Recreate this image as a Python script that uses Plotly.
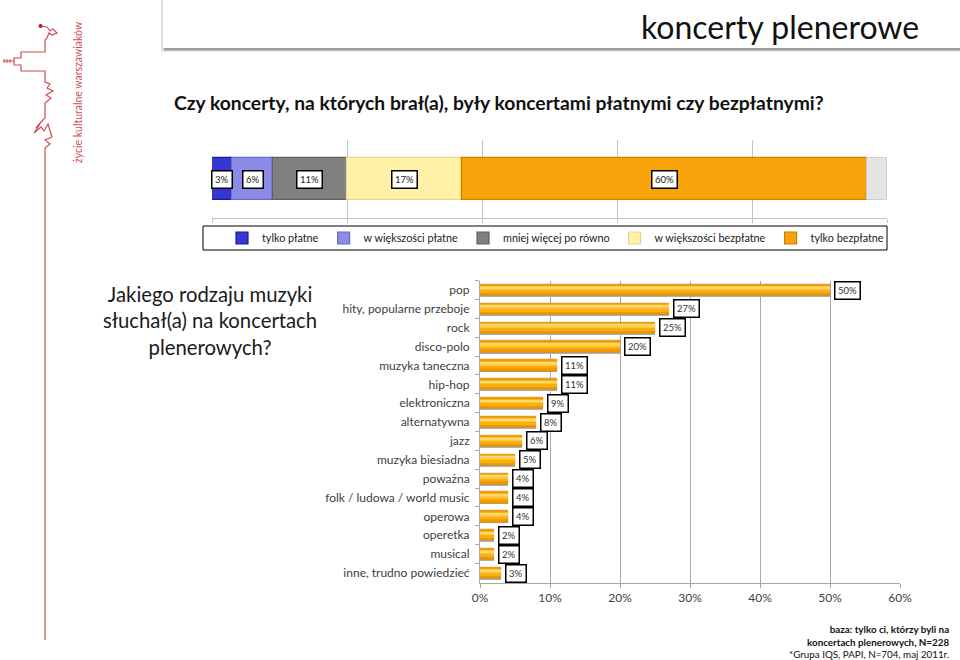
import plotly.graph_objects as go

W, H = 960, 660

# ---------------- data ----------------
pay_categories = ["tylko płatne", "w większości płatne", "mniej więcej po równo",
                  "w większości bezpłatne", "tylko bezpłatne"]
pay_values = [3, 6, 11, 17, 60]
pay_rest = 3  # unlabeled remainder (no answer)
pay_colors = ["#3636D2", "#8C8CE8", "#808080", "#FFF1A6", "#F8A30A"]
pay_edges = ["#1C1C9C", "#6A6AC8", "#606060", "#E6D588", "#C98100"]
pay_ticks = [0, 20, 40, 60, 80, 100]

genres = ["pop", "hity, popularne przeboje", "rock", "disco-polo", "muzyka taneczna",
          "hip-hop", "elektroniczna", "alternatywna", "jazz", "muzyka biesiadna",
          "poważna", "folk / ludowa / world music", "operowa", "operetka", "musical",
          "inne, trudno powiedzieć"]
genre_values = [50, 27, 25, 20, 11, 11, 9, 8, 6, 5, 4, 4, 4, 2, 2, 3]
genre_ticks = [0, 10, 20, 30, 40, 50, 60]

FONT = "Lato, 'Open Sans', sans-serif"


def px(x):
    return x / W


def py(y):
    return 1 - y / H


fig = go.Figure()

# ---------------- top stacked bar ----------------
cum = 0
for name, v, c, e in zip(pay_categories, pay_values, pay_colors, pay_edges):
    fig.add_trace(go.Bar(
        x=[v], y=[0], base=[cum], orientation="h", name=name, width=0.55,
        marker=dict(color=c, line=dict(color=e, width=1.2)),
        xaxis="x", yaxis="y", showlegend=True, hoverinfo="skip"))
    fig.add_annotation(x=cum + v / 2, y=0, xref="x", yref="y", text=f"{v}%",
                       showarrow=False, bgcolor="white", bordercolor="black",
                       borderwidth=1.5, borderpad=2.5,
                       font=dict(family=FONT, size=9.5, color="#222"))
    cum += v
fig.add_trace(go.Bar(
    x=[pay_rest], y=[0], base=[cum], orientation="h", width=0.55,
    marker=dict(color="#E4E4E4", line=dict(color="#CFCFCF", width=1)),
    xaxis="x", yaxis="y", showlegend=False, hoverinfo="skip"))

# ---------------- bottom genre bars (layered for a cylinder look) ----------------
bar_layers = [  # (width, offset, color, edge)
    (0.62, -0.28, "#B0B0B0", None),      # soft shadow
    (0.6, -0.3, "#F29A00", "#C98000"),   # base
    (0.38, -0.26, "#FAAE10", None),
    (0.2, -0.22, "#FFC83A", None),
    (0.08, -0.18, "#FFD970", None),
]
for w, off, col, edge in bar_layers:
    fig.add_trace(go.Bar(
        x=genre_values, y=genres, orientation="h", width=w, offset=off,
        marker=dict(color=col, line=dict(color=edge or col, width=0.6 if edge else 0)),
        xaxis="x2", yaxis="y2", showlegend=False, hoverinfo="skip"))

for g, v in zip(genres, genre_values):
    fig.add_annotation(x=v, y=g, xref="x2", yref="y2", text=f"{v}%",
                       showarrow=False, xanchor="left", xshift=4,
                       bgcolor="white", bordercolor="black", borderwidth=1.5,
                       borderpad=2.5, font=dict(family=FONT, size=9.5, color="#333"))

# ---------------- decorations ----------------
shapes = []
# title box with shadow
shapes.append(dict(type="rect", xref="paper", yref="paper", x0=px(161), x1=1,
                   y0=py(51.5), y1=py(-5), fillcolor="#dcdcdc", line=dict(width=0),
                   layer="above"))
shapes.append(dict(type="rect", xref="paper", yref="paper", x0=px(164), x1=1,
                   y0=py(50.5), y1=py(-5), fillcolor="#9c9c9c", line=dict(width=0),
                   layer="above"))
shapes.append(dict(type="rect", xref="paper", yref="paper", x0=px(163), x1=1,
                   y0=py(48), y1=py(-5), fillcolor="white", line=dict(width=0),
                   layer="above"))
# legend box
shapes.append(dict(type="rect", xref="paper", yref="paper", x0=px(203), x1=px(887),
                   y0=py(250), y1=py(226), fillcolor="white",
                   line=dict(color="black", width=1), layer="above"))

# logo path (decorative)
logo_pts = [(41, 26), (47, 27), (50, 31), (53, 29), (57, 33), (52, 35), (49, 33),
            (47, 38), (45, 40), (45, 52), (21, 52), (21, 58), (14, 58), (14, 65),
            (21, 65), (21, 71), (45, 71), (45, 82), (50, 84), (47, 88), (53, 91),
            (46, 95), (51, 98), (45, 103), (45, 118), (41, 122), (36, 128), (40, 124),
            (34, 133), (41, 127), (44, 131), (48, 124), (52, 137), (45, 140),
            (50, 144), (45, 148), (45, 640)]
path = "M " + " L ".join(f"{px(x):.5f},{py(y):.5f}" for x, y in logo_pts)
shapes.append(dict(type="path", xref="paper", yref="paper", path=path,
                   line=dict(color="#D24A55", width=1.2), layer="above"))
for seg in [((3, 61), (14, 61)), ((4, 59), (4, 63)), ((7, 59), (7, 63)), ((10, 59), (10, 63))]:
    (x0, y0), (x1, y1) = seg
    shapes.append(dict(type="line", xref="paper", yref="paper", x0=px(x0), y0=py(y0),
                       x1=px(x1), y1=py(y1), line=dict(color="#D24A55", width=1),
                       layer="above"))
shapes.append(dict(type="circle", xref="paper", yref="paper", x0=px(38.5), x1=px(42.5),
                   y0=py(28), y1=py(24), fillcolor="#CC1122", line=dict(width=0),
                   layer="above"))

annotations = [
    dict(text="koncerty plenerowe", x=px(921), y=py(26), xref="paper", yref="paper",
         xanchor="right", yanchor="middle", showarrow=False,
         font=dict(family=FONT, size=32, color="#111")),
    dict(text="<b>Czy koncerty, na których brał(a), były koncertami płatnymi czy bezpłatnymi?</b>",
         x=px(172), y=py(103), xref="paper", yref="paper", xanchor="left", yanchor="middle",
         showarrow=False, font=dict(family=FONT, size=19.3, color="#111")),
    dict(text="Jakiego rodzaju muzyki<br>słuchał(a) na koncertach<br>plenerowych?",
         x=px(210), y=py(320), xref="paper", yref="paper", xanchor="center",
         yanchor="middle", align="center", showarrow=False,
         font=dict(family=FONT, size=20.3, color="#1a1a1a")),
    dict(text="<b>baza: tylko ci, którzy byli na<br>koncertach plenerowych, N=228</b><br>*Grupa IQS, PAPI, N=704, maj 2011r.",
         x=px(951), y=py(641), xref="paper", yref="paper", xanchor="right",
         yanchor="middle", align="right", showarrow=False,
         font=dict(family=FONT, size=9.8, color="#111")),
    dict(text="życie kulturalne warszawiaków", x=px(78), y=py(92), xref="paper",
         yref="paper", textangle=-90, showarrow=False, xanchor="center", yanchor="middle",
         font=dict(family=FONT, size=10.5, color="#D24A55")),
]

fig.update_layout(
    width=W, height=H, margin=dict(l=0, r=0, t=0, b=0, autoexpand=False),
    paper_bgcolor="white", plot_bgcolor="white",
    barmode="overlay", bargap=0,
    font=dict(family=FONT, color="#222"),
    shapes=shapes,
    annotations=list(fig.layout.annotations) + annotations,
    showlegend=True,
    legend=dict(orientation="h", x=px(222), y=py(238), xanchor="left", yanchor="middle",
                bgcolor="rgba(0,0,0,0)", borderwidth=0, traceorder="normal",
                font=dict(family=FONT, size=10.8, color="#1a1a1a"),
                itemwidth=30),
    xaxis=dict(domain=[px(212), px(887)], anchor="y", range=[0, 100],
               tickvals=pay_ticks, showticklabels=False,
               showgrid=True, gridcolor="#c4c4c4", gridwidth=1, zeroline=False,
               showline=True, linecolor="#c4c4c4", ticks="outside", ticklen=4,
               tickcolor="#c4c4c4", fixedrange=True, automargin=False),
    yaxis=dict(domain=[py(218), py(140)], anchor="x", range=[-0.5, 0.5],
               showticklabels=False, showgrid=False, zeroline=False, showline=False,
               fixedrange=True, automargin=False),
    xaxis2=dict(domain=[px(480), px(900)], anchor="y2", range=[0, 60],
                tickvals=genre_ticks, ticktext=[f"{t}%" for t in genre_ticks],
                tickfont=dict(family=FONT, size=12, color="#404040"),
                showgrid=True, gridcolor="#a8a8a8", gridwidth=1, zeroline=False,
                showline=True, linecolor="#a8a8a8", ticks="outside", ticklen=4,
                tickcolor="#a8a8a8", fixedrange=True, automargin=False),
    yaxis2=dict(domain=[py(582.5), py(280.5)], anchor="x2", autorange="reversed",
                type="category", tickfont=dict(family=FONT, size=12, color="#404040"),
                showgrid=False, zeroline=False, showline=True, linecolor="#a8a8a8",
                ticks="outside", ticklen=4, tickcolor="#a8a8a8", tickson="boundaries",
                ticklabelstandoff=7, fixedrange=True, automargin=False),
)

fig.write_html("out.html")
